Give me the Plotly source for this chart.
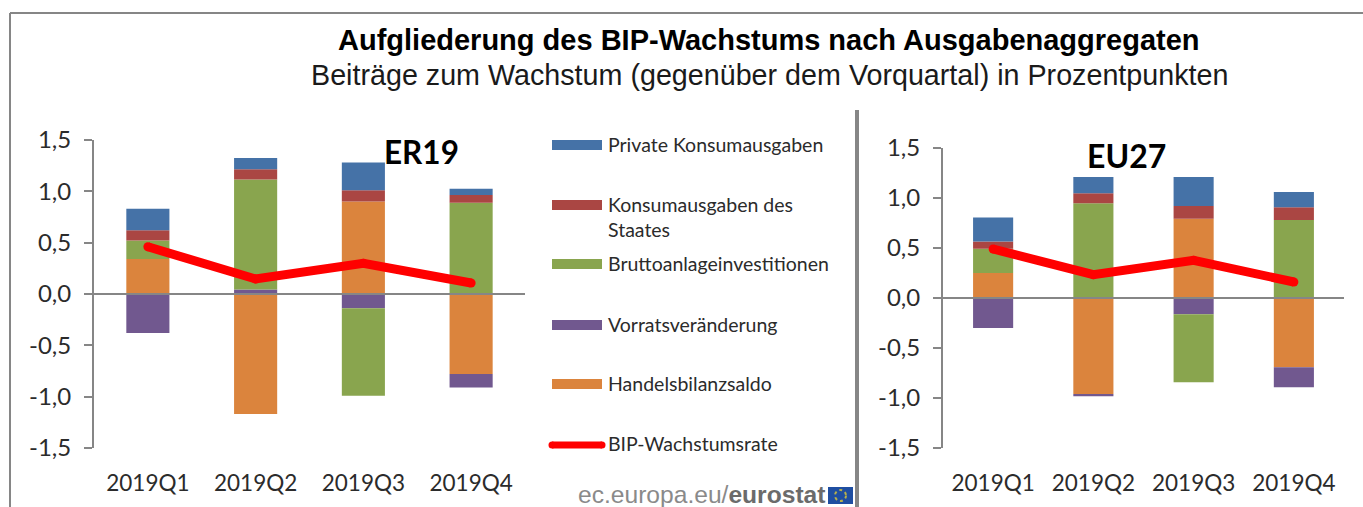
import plotly.graph_objects as go

W, H = 1363, 507

quarters = ["2019Q1", "2019Q2", "2019Q3", "2019Q4"]
y_ticks = [-1.5, -1.0, -0.5, 0.0, 0.5, 1.0, 1.5]
y_labels = ["-1,5", "-1,0", "-0,5", "0,0", "0,5", "1,0", "1,5"]

er_handel = [0.34, -1.17, 0.90, -0.78]
er_vorrat = [-0.38, 0.045, -0.14, -0.13]
er_brutto = [0.18, 1.07, -0.85, 0.89]
er_staat = [0.10, 0.10, 0.11, 0.075]
er_privat = [0.21, 0.11, 0.27, 0.06]
er_bip = [0.46, 0.146, 0.30, 0.107]

eu_handel = [0.25, -0.96, 0.793, -0.693]
eu_vorrat = [-0.30, -0.023, -0.163, -0.20]
eu_brutto = [0.243, 0.947, -0.68, 0.78]
eu_staat = [0.073, 0.10, 0.127, 0.127]
eu_privat = [0.24, 0.163, 0.29, 0.153]
eu_bip = [0.49, 0.233, 0.377, 0.16]

c_privat, c_staat, c_brutto, c_vorrat, c_handel = "#4572a7", "#aa4643", "#89a54e", "#71588f", "#db843d"
c_bip = "#ff0000"
grey = "#868686"
txt = "#2b2b2b"

legend_labels = ["Private Konsumausgaben", "Konsumausgaben des<br>Staates", "Bruttoanlageinvestitionen",
                 "Vorratsveränderung", "Handelsbilanzsaldo"]
legend_colors = [c_privat, c_staat, c_brutto, c_vorrat, c_handel]
legend_y = [145, 205, 264, 325, 384]


def px(x):
    return x / W


def py(y):
    return 1 - y / H


fig = go.Figure()

panels = [
    ("x", "y", [er_handel, er_vorrat, er_brutto, er_staat, er_privat], er_bip),
    ("x2", "y2", [eu_handel, eu_vorrat, eu_brutto, eu_staat, eu_privat], eu_bip),
]
for xa, ya, stack, bip in panels:
    for vals, col in zip(stack, [c_handel, c_vorrat, c_brutto, c_staat, c_privat]):
        fig.add_trace(go.Bar(x=quarters, y=vals, marker=dict(color=col, line=dict(width=0)),
                             xaxis=xa, yaxis=ya, showlegend=False, hoverinfo="skip"))
    fig.add_trace(go.Scatter(x=quarters, y=bip, mode="lines+markers",
                             line=dict(color=c_bip, width=9), marker=dict(color=c_bip, size=9),
                             xaxis=xa, yaxis=ya, showlegend=False, hoverinfo="skip"))

yaxis_style = dict(range=[-1.5, 1.5], tickvals=y_ticks, ticktext=y_labels, ticks="outside", ticklen=8,
                   tickwidth=2, tickcolor=grey, showline=True, linecolor=grey, linewidth=2, automargin=False,
                   ticklabelstandoff=8,
                   showgrid=False, zeroline=False, tickfont=dict(family="Lato", size=24, color=txt))
xaxis_style = dict(range=[-0.5, 3.5], type="category", showgrid=False, zeroline=False, showline=False,
                   automargin=False, ticks="", ticklabelstandoff=19,
                   tickfont=dict(family="Lato", size=22.5, color=txt))

shapes = []
for xr, yr in (("x domain", "y"), ("x2 domain", "y2")):
    shapes.append(dict(type="line", xref=xr, yref=yr, x0=0, x1=1, y0=0, y1=0,
                       line=dict(color=grey, width=2), layer="above"))

# frame and divider
shapes += [
    dict(type="line", xref="paper", yref="paper", x0=px(10), x1=1, y0=py(13), y1=py(13), line=dict(color=grey, width=2)),
    dict(type="line", xref="paper", yref="paper", x0=px(10), x1=px(10), y0=py(13), y1=0, line=dict(color=grey, width=2)),
    dict(type="line", xref="paper", yref="paper", x0=px(857), x1=px(857), y0=py(110), y1=0, line=dict(color=grey, width=4)),
]

annotations = []


def note(x, y, text, size, family, color="#000000", anchor="left"):
    annotations.append(dict(xref="paper", yref="paper", x=px(x), y=py(y), text=text, showarrow=False,
                            xanchor=anchor, yanchor="middle", align="left", borderpad=0,
                            font=dict(family=family, size=size, color=color)))


for label, col, y in zip(legend_labels, legend_colors, legend_y):
    shapes.append(dict(type="rect", xref="paper", yref="paper", x0=px(552), x1=px(602), y0=py(y - 5), y1=py(y + 5),
                       fillcolor=col, line=dict(width=0)))
    if "<br>" in label:
        first, second = label.split("<br>")
        note(607, y - 1, first, 19.5, "Lato", txt)
        note(607, y + 24, second, 19.5, "Lato", txt)
    else:
        note(607, y - 1, label, 19.5, "Lato", txt)

# legend key of the line, on a helper axis measured in page pixels
fig.add_trace(go.Scatter(x=[552, 602], y=[445, 445], mode="lines+markers",
                         line=dict(color=c_bip, width=7), marker=dict(color=c_bip, size=7),
                         xaxis="x3", yaxis="y3", showlegend=False, hoverinfo="skip"))
note(607, 443, "BIP-Wachstumsrate", 19.5, "Lato", txt)

note(769, 40, "<b>Aufgliederung des BIP-Wachstums nach Ausgabenaggregaten</b>", 29, "Liberation Sans", "#000000", "center")
note(769, 75, "Beiträge zum Wachstum (gegenüber dem Vorquartal) in Prozentpunkten", 28.7, "Liberation Sans", "#1a1a1a", "center")
note(421, 152, "<b>ER19</b>", 31.5, "Lato", "#000000", "center")
note(1126, 155, "<b>EU27</b>", 32, "Lato", "#000000", "center")

note(826, 494, "<span style='color:#8a8a8a'>ec.europa.eu/</span><b style='color:#6b6b6b'>eurostat</b>",
     24.6, "Liberation Sans", "#808080", "right")
shapes.append(dict(type="rect", xref="paper", yref="paper", x0=px(828), x1=px(853), y0=py(487), y1=py(504),
                   fillcolor="#1f4ea1", line=dict(width=0)))
shapes.append(dict(type="circle", xref="paper", yref="paper", x0=px(835), x1=px(846), y0=py(490), y1=py(501),
                   line=dict(color="#b8b04a", width=2, dash="dot")))

fig.update_layout(
    width=W, height=H, margin=dict(l=0, r=0, t=0, b=0),
    paper_bgcolor="white", plot_bgcolor="rgba(0,0,0,0)", barmode="relative", bargap=0.6,
    showlegend=False, shapes=shapes, annotations=annotations,
    xaxis=dict(domain=[px(94), px(525)], anchor="y", **xaxis_style),
    yaxis=dict(domain=[py(448), py(140)], anchor="x", **yaxis_style),
    xaxis2=dict(domain=[px(943), px(1344)], anchor="y2", **xaxis_style),
    yaxis2=dict(domain=[py(448), py(148)], anchor="x2", **yaxis_style),
    xaxis3=dict(domain=[0, 1], range=[0, W], visible=False, anchor="y3", automargin=False),
    yaxis3=dict(domain=[0, 1], range=[H, 0], visible=False, anchor="x3", automargin=False),
)

fig.write_html("out.html", config=dict(displayModeBar=False),
               post_script="document.body.style.margin='0';document.body.style.overflow='hidden';")
